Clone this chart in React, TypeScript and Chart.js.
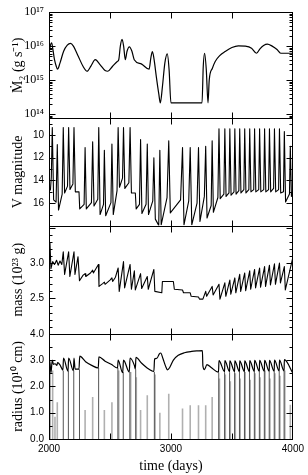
import React, { useEffect, useRef } from "react";
import { Chart, registerables } from "chart.js";
Chart.register(...registerables);

const SERIF = '"Liberation Serif", "Times New Roman", serif';
const SANS = '"Liberation Sans", Arial, sans-serif';

// ---------- axis ticks ----------
const xTickDays = [2000, 3000, 4000];
const xTickMarks = [2500, 3000, 3500];
const mdotTickExp = [14, 15, 16, 17];
const vTicks = [10, 12, 14, 16];
const massTicks = [2.5, 3.0];
const radiusTicks = [0, 1, 2, 3, 4];

// ---------- panel 1: accretion rate (log10 g/s) ----------
const mdotDays = [2000,2010,2022,2030,2045,2060,2070,2090,2120,2150,2176,2200,2240,2280,2312,2345,2379,2420,2460,2482,2520,2560,2572,2585,2599,2612,2626,2640,2659,2680,2699,2760,2821,2835,2848,2862,2880,2900,2913,2930,2950,2970,2985,3000,3255,3265,3276,3290,3304,3314,3340,3363,3400,3444,3500,3553,3610,3661,3702,3730,3760,3791,3830,3870,3900,4000];
const mdotLog10 = [15.75,16.0,16.1,15.95,15.6,15.4,15.32,15.5,15.85,16.03,16.08,16.0,15.7,15.4,15.26,15.42,15.6,15.45,15.28,15.26,15.4,15.55,15.6,16.0,16.2,16.0,15.6,15.85,15.98,15.85,15.6,15.47,15.32,15.65,15.84,15.6,15.1,14.6,14.33,14.8,15.5,15.77,15.3,14.33,14.33,15.4,15.79,15.3,14.33,15.0,15.35,15.55,15.72,15.84,15.96,16.01,16.0,15.94,15.79,15.92,16.02,16.06,16.0,15.9,15.79,15.79];

// ---------- panel 2: V magnitude ----------
const vDays = [2000,2012,2019,2027,2038,2058,2068,2078,2108,2117,2128,2152,2161,2172,2196,2205,2216,2246,2252,2288,2296,2306,2348,2358,2369,2400,2408,2419,2447,2454,2465,2508,2516,2527,2558,2567,2578,2603,2611,2622,2655,2665,2676,2708,2715,2742,2751,2762,2796,2806,2816,2851,2860,2872,2900,2909,2920,2968,2982,2995,3079,3095,3107,3146,3158,3171,3214,3226,3238,3274,3285,3296,3330,3338,3348,3385,3394,3404,3434,3442,3452,3476,3483,3493,3517,3524,3534,3557,3564,3574,3598,3605,3615,3639,3646,3656,3679,3686,3696,3720,3727,3737,3761,3768,3778,3801,3808,3818,3842,3849,3859,3883,3890,3900,3923,3930,3940,3972,3979,3988,4000];
const vMag = [15.0,14.8,13.7,9.35,15.7,15.9,10.85,16.6,15.2,9.35,15.1,14.5,9.35,14.8,14.3,9.35,15.0,15.0,16.5,16.1,11.1,16.5,15.95,10.6,16.25,15.65,9.35,17.0,16.1,11.35,17.1,15.95,10.8,17.0,14.9,9.35,14.6,13.8,9.35,14.7,14.2,9.35,15.1,15.1,16.5,16.1,10.4,16.9,16.1,10.8,17.0,15.8,12.0,17.4,17.95,11.35,17.9,15.5,10.5,16.85,15.7,11.1,17.9,15.8,11.1,17.9,16.0,11.1,17.6,15.4,11.0,17.3,16.2,10.5,16.8,15.5,9.45,15.6,15.2,9.45,15.4,15.1,9.45,15.3,15.0,9.45,15.2,14.9,9.45,15.1,14.8,9.45,15.1,14.8,9.45,15.0,14.8,9.45,15.0,14.8,9.45,15.0,14.8,9.45,15.0,14.8,9.45,15.0,14.7,9.45,15.0,14.8,9.45,15.1,15.0,9.7,15.9,15.2,11.0,15.4,14.9];

// ---------- panel 3: disc mass (1e23 g) ----------
const massDays = [2000,2008,2016,2030,2045,2062,2075,2090,2105,2117,2128,2161,2171,2205,2213,2238,2250,2280,2296,2302,2340,2358,2364,2405,2410,2440,2454,2460,2500,2516,2522,2545,2567,2576,2611,2620,2665,2676,2700,2708,2751,2760,2806,2814,2860,2868,2925,2930,3020,3028,3095,3103,3158,3166,3226,3234,3262,3285,3293,3338,3346,3394,3402,3442,3450,3483,3491,3524,3532,3564,3572,3605,3613,3646,3654,3686,3694,3727,3735,3768,3776,3808,3816,3849,3857,3890,3898,3930,3938,4000];
const massVal = [3.08,3.28,2.92,3.02,2.98,3.04,2.97,3.03,2.98,3.16,2.84,3.16,2.81,3.16,2.84,3.09,2.75,2.83,2.85,2.81,2.86,2.9,2.86,2.98,2.67,2.71,2.73,2.70,2.76,2.79,2.74,2.80,2.93,2.60,3.02,2.65,2.98,2.63,2.89,2.62,2.85,2.64,2.81,2.63,2.91,2.60,2.58,2.74,2.74,2.63,2.62,2.58,2.58,2.53,2.52,2.49,2.49,2.60,2.53,2.67,2.55,2.70,2.49,2.72,2.53,2.76,2.56,2.79,2.58,2.84,2.60,2.86,2.61,2.89,2.63,2.91,2.65,2.93,2.66,2.95,2.67,2.97,2.69,2.99,2.70,3.00,2.72,2.95,2.62,3.08];

// ---------- panel 4: disc radius (1e10 cm) ----------
const radDays = [2000,2006,2016,2027,2036,2050,2065,2070,2090,2114,2119,2156,2161,2200,2205,2214,2246,2252,2300,2350,2404,2409,2460,2510,2562,2567,2604,2611,2658,2665,2700,2708,2713,2760,2800,2860,2866,2885,2905,2916,2935,2955,2972,2990,3020,3060,3110,3170,3220,3258,3262,3275,3295,3330,3390,3394,3440,3442,3481,3483,3522,3524,3562,3564,3603,3605,3644,3646,3684,3686,3725,3727,3766,3768,3806,3808,3847,3849,3888,3890,3928,3930,4000];
const radVal = [2.75,2.97,2.52,3.0,2.84,2.86,2.80,2.9,2.82,2.62,3.08,2.58,3.08,2.6,3.08,2.66,2.66,3.15,2.94,2.8,2.70,3.12,2.96,2.84,2.70,3.0,2.52,3.0,2.55,3.08,2.8,2.66,3.1,2.88,2.72,2.57,3.04,3.07,3.24,3.27,3.05,2.78,2.63,2.72,3.0,3.18,3.28,3.33,3.35,3.36,2.78,2.64,2.83,2.72,2.54,2.98,2.56,2.98,2.56,2.97,2.56,2.97,2.56,2.97,2.56,2.97,2.56,2.98,2.57,2.99,2.57,2.99,2.57,2.99,2.57,2.99,2.57,3.0,2.58,3.0,2.58,3.02,2.5];

// heating-front excursions (vertical lines)
const darkFrontDays = [2008,2117,2159,2203,2250,2407,2565,2609,2663,2711,2864,3392,3440,3481,3522,3562,3603,3644,3684,3725,3766,3806,3847,3888,3928];
const darkFrontTop = [2.75,2.6,2.6,2.6,2.65,2.7,2.7,2.55,2.55,2.65,2.55,2.52,2.54,2.54,2.54,2.55,2.55,2.55,2.56,2.56,2.56,2.56,2.56,2.57,2.57];
const lightFrontDays = [2030,2049,2068,2296,2358,2454,2516,2572,2670,2716,2751,2806,2870,2909,2982,3095,3158,3226,3285,3338,3398,3446,3487,3528,3568,3609,3650,3690,3731,3772,3812,3853,3894,3934,3979];
const lightFrontTop = [2.6,0.85,1.4,1.1,1.6,1.1,1.4,2.6,2.55,2.35,1.1,1.66,2.45,1.0,1.72,1.16,1.28,1.28,1.28,1.6,2.3,2.45,2.2,2.5,2.3,2.55,2.25,2.5,2.35,2.6,2.3,2.5,2.4,2.6,1.3];

const SUP: Record<string, string> = { "0": "⁰", "1": "¹", "2": "²", "3": "³", "4": "⁴", "5": "⁵", "6": "⁶", "7": "⁷", "8": "⁸", "9": "⁹", "-": "⁻" };
const sup = (n: number) => String(n).split("").map((c) => SUP[c] ?? c).join("");

type Mark = [number, number];
const PANELS: { id: string; marks: (s: any) => Mark[] }[] = [
  {
    id: "yD",
    marks: (s) => {
      const out: Mark[] = [];
      for (let e = 13; e <= 17; e++)
        for (let k = 1; k <= 9; k++) {
          const v = k * Math.pow(10, e);
          if (v >= s.min && v <= s.max) out.push([v, k === 1 ? 6 : 3]);
        }
      return out;
    },
  },
  {
    id: "yV",
    marks: () => {
      const out: Mark[] = [];
      for (let v = 9; v <= 17; v++) out.push([v, v % 2 === 0 ? 6 : 3]);
      return out;
    },
  },
  {
    id: "yM",
    marks: () => {
      const out: Mark[] = [];
      for (let i = 20; i <= 35; i++) out.push([i / 10, i % 5 === 0 ? 6 : 3]);
      return out;
    },
  },
  {
    id: "yR",
    marks: () => {
      const out: Mark[] = [];
      for (let i = 0; i <= 8; i++) out.push([i / 2, i % 2 === 0 ? 6 : 3]);
      return out;
    },
  },
];

const panelFrame = {
  id: "panelFrame",
  afterDatasetsDraw(chart: any) {
    const { ctx, chartArea } = chart;
    const L = Math.round(chartArea.left) + 0.5;
    const R = Math.round(chartArea.right) - 0.5;
    const xs = chart.scales.x;
    ctx.save();
    ctx.strokeStyle = "#000";
    ctx.lineWidth = 1;
    const seg = (x1: number, y1: number, x2: number, y2: number) => {
      ctx.beginPath();
      ctx.moveTo(x1, y1);
      ctx.lineTo(x2, y2);
      ctx.stroke();
    };
    for (const p of PANELS) {
      const s = chart.scales[p.id];
      const T = Math.round(s.top) + 0.5;
      const B = Math.round(s.bottom) + 0.5;
      ctx.strokeRect(L, T, R - L, B - T);
      for (const d of xTickMarks) {
        const px = Math.round(xs.getPixelForValue(d)) + 0.5;
        seg(px, T, px, T + 6);
        seg(px, B, px, B - 6);
      }
      for (const [v, len] of p.marks(s)) {
        const py = Math.round(s.getPixelForValue(v)) + 0.5;
        if (py <= T + 0.5 || py >= B - 0.5) continue;
        seg(L, py, L + len, py);
        seg(R, py, R - len, py);
      }
    }
    ctx.restore();
  },
};

const titleFont = { family: SERIF, size: 14, weight: "normal" };

function yAxis(extra: any, title: string, weight: number, stackWeight: number) {
  return {
    position: "left",
    stack: "panels",
    stackWeight,
    weight,
    offset: false,
    grid: { display: false, drawTicks: false },
    border: { display: false },
    afterFit: (s: any) => {
      s.width = 49;
    },
    title: { display: true, text: title, color: "#000", font: titleFont, padding: { top: 10, bottom: 0 } },
    ...extra,
    ticks: { color: "#000", font: { family: SANS, size: 10, weight: "normal" }, padding: 5, autoSkip: false, ...(extra.ticks || {}) },
  };
}

export default function App() {
  const ref = useRef<HTMLCanvasElement>(null);
  useEffect(() => {
    const canvas = ref.current!;
    const pts = (xs: number[], ys: number[], f: (v: number) => number = (v) => v) =>
      xs.map((x, i) => ({ x, y: f(ys[i]) }));
    const segs = (days: number[], tops: number[]) => {
      const out: any[] = [];
      days.forEach((d, i) => {
        out.push({ x: d, y: 0 }, { x: d, y: tops[i] }, { x: d, y: null });
      });
      return out;
    };
    const base = { pointRadius: 0, fill: false, borderJoinStyle: "round" as const };
    const chart = new Chart(canvas, {
      type: "line",
      data: {
        datasets: [
          { ...base, data: pts(mdotDays, mdotLog10, (v) => Math.pow(10, v)), yAxisID: "yD", borderColor: "#000", borderWidth: 1.2, cubicInterpolationMode: "monotone", order: 0 },
          { ...base, data: pts(vDays, vMag), yAxisID: "yV", borderColor: "#000", borderWidth: 1.1, tension: 0, order: 0 },
          { ...base, data: pts(massDays, massVal), yAxisID: "yM", borderColor: "#000", borderWidth: 1.1, tension: 0, order: 0 },
          { ...base, data: pts(radDays, radVal), yAxisID: "yR", borderColor: "#000", borderWidth: 1.2, cubicInterpolationMode: "monotone", order: 0 },
          { ...base, data: segs(darkFrontDays, darkFrontTop), yAxisID: "yR", borderColor: "#555", borderWidth: 1, spanGaps: false, tension: 0, order: 1 },
          { ...base, data: segs(lightFrontDays, lightFrontTop), yAxisID: "yR", borderColor: "#b0b0b0", borderWidth: 1.6, spanGaps: false, tension: 0, order: 2 },
        ],
      },
      options: {
        animation: false,
        responsive: true,
        maintainAspectRatio: false,
        events: [],
        layout: { padding: { top: 9, right: 13, left: 0, bottom: 0 } },
        plugins: { legend: { display: false }, tooltip: { enabled: false } },
        scales: {
          x: {
            type: "linear",
            position: "bottom",
            min: 2000,
            max: 4000,
            grid: { display: false, drawTicks: false },
            border: { display: false },
            afterBuildTicks: (s: any) => {
              s.ticks = xTickDays.map((value) => ({ value }));
            },
            afterFit: (s: any) => {
              s.height = 36;
            },
            ticks: { color: "#000", font: { family: SANS, size: 10, weight: "normal" }, padding: 4, maxRotation: 0, autoSkip: false, callback: (v: any) => String(v) },
            title: { display: true, text: "time (days)", color: "#000", font: titleFont, padding: { top: 0, bottom: 0 } },
          },
          yR: yAxis(
            {
              type: "linear",
              min: 0,
              max: 4,
              afterBuildTicks: (s: any) => {
                s.ticks = radiusTicks.map((value) => ({ value }));
              },
              ticks: { callback: (v: any) => Number(v).toFixed(1) },
            },
            "radius (10" + sup(10) + " cm)",
            1,
            106
          ),
          yM: yAxis(
            {
              type: "linear",
              min: 2.0,
              max: 3.53,
              afterBuildTicks: (s: any) => {
                s.ticks = massTicks.map((value) => ({ value }));
              },
              ticks: { callback: (v: any) => Number(v).toFixed(1) },
            },
            "mass (10" + sup(23) + " g)",
            2,
            109
          ),
          yV: yAxis(
            {
              type: "linear",
              min: 8.54,
              max: 17.97,
              reverse: true,
              afterBuildTicks: (s: any) => {
                s.ticks = vTicks.map((value) => ({ value }));
              },
              ticks: { callback: (v: any) => String(v) },
            },
            "V magnitude",
            3,
            108
          ),
          yD: yAxis(
            {
              type: "logarithmic",
              min: Math.pow(10, 13.871),
              max: 1e17,
              afterBuildTicks: (s: any) => {
                s.ticks = mdotTickExp.map((e) => ({ value: Math.pow(10, e) }));
              },
              ticks: {
                font: { family: SERIF, size: 12, weight: "normal" },
                callback: (v: any) => "10" + sup(Math.round(Math.log10(Number(v)))),
              },
            },
            "Ṁ₂ (g s⁻¹)",
            4,
            107
          ),
        },
      } as any,
      plugins: [panelFrame],
    });
    return () => chart.destroy();
  }, []);
  return (
    <div style={{ position: "absolute", left: 0, top: 0, width: 308, height: 475 }}>
      <canvas ref={ref} />
    </div>
  );
}
